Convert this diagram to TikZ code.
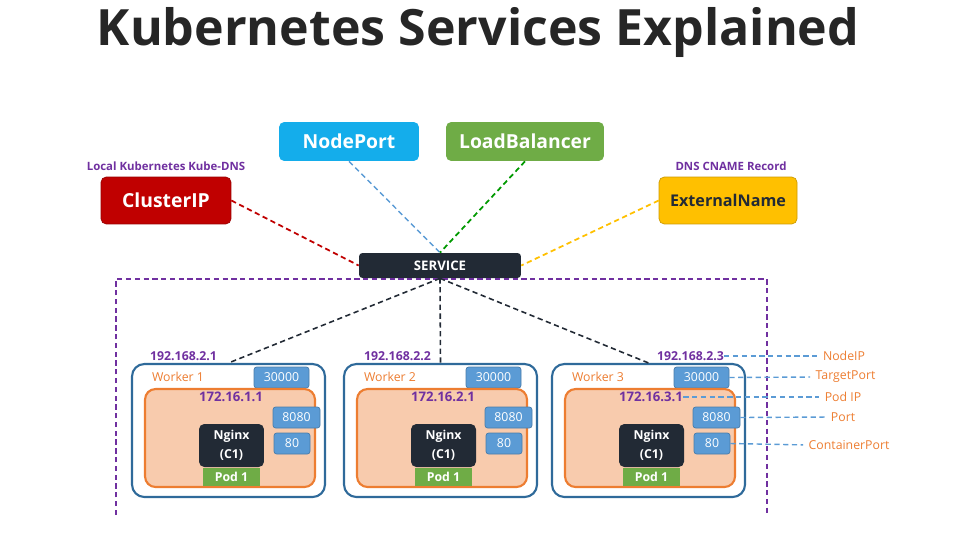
\documentclass[tikz,border=0pt]{standalone}
\usepackage{fontspec}
\setmainfont{Open Sans}
\usetikzlibrary{positioning}
\definecolor{npblue}{HTML}{14ADEB}
\definecolor{lbgreen}{HTML}{6FAC46}
\definecolor{cipred}{HTML}{C00000}
\definecolor{extyellow}{HTML}{FFC000}
\definecolor{navy}{HTML}{222A35}
\definecolor{purp}{HTML}{7030A0}
\definecolor{wblue}{HTML}{2F6A9A}
\definecolor{portblue}{HTML}{5B9BD5}
\definecolor{peach}{HTML}{F8CBAD}
\definecolor{orng}{HTML}{ED7D31}
\definecolor{titlegray}{HTML}{262626}
\tikzset{
  svc/.style={rounded corners=3pt, text=white, inner sep=0pt,
    font=\bfseries\fontsize{11}{13}\selectfont},
  note/.style={text=purp, font=\bfseries\fontsize{6.5}{8}\selectfont, inner sep=0pt},
  ip/.style={text=purp, font=\bfseries\fontsize{7}{8}\selectfont, inner sep=0pt},
  port/.style={fill=portblue, draw=portblue!80!black, rounded corners=1.5pt,
    text=white, font=\fontsize{7}{8}\selectfont, inner sep=0pt, minimum height=0.42cm},
  lbl/.style={text=orng, font=\fontsize{7}{8}\selectfont, inner sep=0pt},
  link/.style={dashed, line width=1pt, dash pattern=on 3pt off 2pt},
  guide/.style={portblue, dashed, line width=0.8pt, dash pattern=on 3pt off 2pt, shorten >=3pt}
}
\begin{document}
\begin{tikzpicture}[x=0.02cm, y=-0.02cm]
\useasboundingbox (0,0) rectangle (962,537);
\node[text=titlegray, font=\bfseries\fontsize{28.5}{32}\selectfont] (title) at (478,32) {Kubernetes Services Explained};

% service types
\node[svc, fill=npblue, minimum width=2.8cm, minimum height=0.78cm] (np) at (349,141.5) {NodePort};
\node[svc, fill=lbgreen, minimum width=3.16cm, minimum height=0.78cm] (lb) at (525,141.5) {LoadBalancer};
\node[svc, fill=cipred, draw=cipred!80!black, minimum width=2.6cm, minimum height=0.94cm] (cip) at (166,200.5) {ClusterIP};
\node[svc, fill=extyellow, draw=extyellow!80!black, text=navy, minimum width=2.76cm, minimum height=0.94cm,
  font=\bfseries\fontsize{9.2}{11}\selectfont] (ext) at (728,200.5) {ExternalName};
\node[note] (dns) at (166,166) {Local Kubernetes Kube-DNS};
\node[note] (cname) at (731,166) {DNS CNAME Record};
\node[svc, fill=navy, rounded corners=2pt, minimum width=3.24cm, minimum height=0.5cm,
  font=\bfseries\fontsize{7.5}{9}\selectfont] (svc) at (440,265.5) {SERVICE};

\draw[link, cipred] (cip.east) -- (svc.west);
\draw[link, portblue, line width=0.8pt] (np.south) -- (svc.north);
\draw[link, green!60!black] (lb.south) -- (svc.north);
\draw[link, extyellow] (ext.west) -- (svc.east);

% cluster
\draw[purp, line width=1pt, dash pattern=on 3pt off 2pt] (116,515) |- (767,279) -- (767,515);

\foreach \i/\dx/\ipx in {1/0/183.5, 2/212/397.5, 3/420/690.5} {
  \node[draw=wblue, line width=1.2pt, fill=white, rounded corners=7pt,
    minimum width=3.86cm, minimum height=2.66cm] (w\i) at (228.5+\dx,430.5) {};
  \node[ip] (ip\i) at (\ipx,356) {192.168.2.\i};
  \node[lbl, text=orng] (wl\i) at (178+\dx,377) {Worker \i};
  \node[port, minimum width=1.1cm] (tp\i) at (281.5+\dx,377.5) {30000};
  \node[draw=orng, line width=1.2pt, fill=peach, rounded corners=6pt,
    minimum width=3.4cm, minimum height=1.96cm] (pod\i) at (230+\dx,438) {};
  \node[ip, font=\bfseries\fontsize{7.5}{9}\selectfont] (pip\i) at (231+\dx,397) {172.16.\i.1};
  \node[port, minimum width=0.94cm] (pa\i) at (296.5+\dx,417.5) {8080};
  \node[port, minimum width=0.72cm] (pb\i) at (292+\dx,443.5) {80};
  \node[fill=navy, rounded corners=3pt, text=white, align=center, inner sep=0pt,
    font=\bfseries\fontsize{7}{11}\selectfont, minimum width=1.3cm, minimum height=0.86cm] (ngx\i) at (231.5+\dx,445.5) {Nginx\\(C1)};
  \node[fill=lbgreen, text=white, inner sep=0pt, font=\bfseries\fontsize{7}{8}\selectfont,
    minimum width=1.14cm, minimum height=0.36cm, below=0pt of ngx\i] (pl\i) {Pod 1};
  \draw[link, navy, line width=0.9pt] (svc.south) -- (w\i.north);
}

% legend on the right
\node[lbl] (lnip) at (844,356) {NodeIP};
\node[lbl] (ltp) at (845.5,377) {TargetPort};
\node[lbl] (lpip) at (843,397) {Pod IP};
\node[lbl] (lport) at (843,417) {Port};
\node[lbl] (lcp) at (849,445) {ContainerPort};
\draw[guide] (ip3.east) -- (lnip.west);
\draw[guide] (tp3.east) -- (ltp.west);
\draw[guide] (pip3.east) -- (lpip.west);
\draw[guide] (pa3.east) -- (lport.west);
\draw[guide] (pb3.east) -- (lcp.west);
\end{tikzpicture}
\end{document}
